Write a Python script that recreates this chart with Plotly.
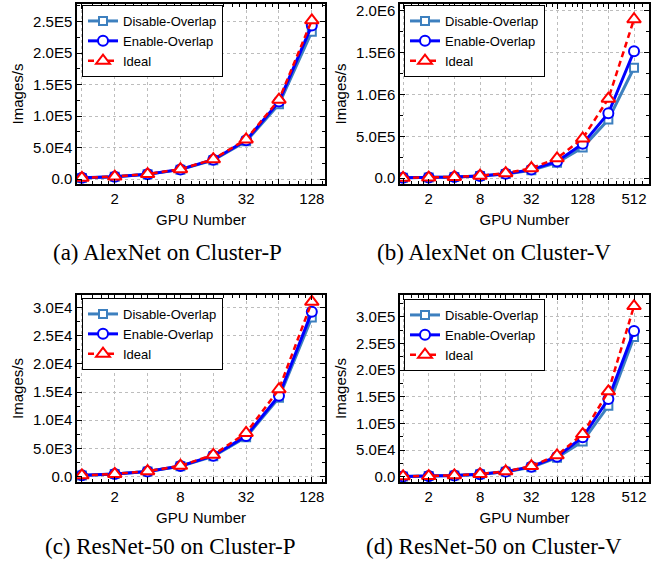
import plotly.graph_objects as go

W, H = 667, 567

# ---------------- data ----------------
gpus_p = [1, 2, 4, 8, 16, 32, 64, 128]
gpus_v = [1, 2, 4, 8, 16, 32, 64, 128, 256, 512]

alex_p_disable = [1900, 3800, 7500, 15000, 30000, 60000, 119000, 234000]
alex_p_enable = [1950, 3880, 7700, 15400, 30800, 61500, 123000, 244000]
alex_p_ideal = [1970, 3940, 7880, 15760, 31520, 63040, 126080, 252160]

alex_v_disable = [3600, 6800, 13000, 25500, 49000, 95000, 185000, 366000, 700000, 1320000]
alex_v_enable = [3700, 7000, 13500, 27000, 52000, 102000, 200000, 410000, 775000, 1517000]
alex_v_ideal = [3710, 7420, 14840, 29680, 59360, 118720, 237440, 474880, 949760, 1899520]

res_p_disable = [230, 460, 920, 1840, 3620, 7000, 14000, 28200]
res_p_enable = [235, 470, 940, 1880, 3720, 7200, 14340, 29200]
res_p_ideal = [242, 484, 968, 1936, 3872, 7744, 15488, 30976]

res_v_disable = [590, 1150, 2300, 4500, 9100, 17800, 35500, 66000, 133000, 262000]
res_v_enable = [600, 1200, 2400, 4700, 9500, 18800, 37500, 74000, 145700, 273000]
res_v_ideal = [625, 1250, 2500, 5000, 10000, 20000, 40000, 80000, 160000, 320000]

series_names = ["Disable-Overlap", "Enable-Overlap", "Ideal"]

x_ticktext_p = ["", "2", "", "8", "", "32", "", "128"]
x_ticktext_v = ["", "2", "", "8", "", "32", "", "128", "", "512"]

y_tickvals_a = [0, 50000, 100000, 150000, 200000, 250000]
y_ticktext_a = ["0.0", "5.0E4", "1.0E5", "1.5E5", "2.0E5", "2.5E5"]
y_tickvals_b = [0, 500000, 1000000, 1500000, 2000000]
y_ticktext_b = ["0.0", "5.0E5", "1.0E6", "1.5E6", "2.0E6"]
y_tickvals_c = [0, 5000, 10000, 15000, 20000, 25000, 30000]
y_ticktext_c = ["0.0", "5.0E3", "1.0E4", "1.5E4", "2.0E4", "2.5E4", "3.0E4"]
y_tickvals_d = [0, 50000, 100000, 150000, 200000, 250000, 300000]
y_ticktext_d = ["0.0", "5.0E4", "1.0E5", "1.5E5", "2.0E5", "2.5E5", "3.0E5"]

captions = ["(a) AlexNet on Cluster-P", "(b) AlexNet on Cluster-V",
            "(c) ResNet-50 on Cluster-P", "(d) ResNet-50 on Cluster-V"]

# ---------------- layout helpers ----------------
def px_x(v):
    return v / W

def px_y(v):
    return 1 - v / H

panels = [
    dict(x=gpus_p, ys=[alex_p_disable, alex_p_enable, alex_p_ideal],
         xt=x_ticktext_p, yv=y_tickvals_a, yt=y_ticktext_a, ydt=25000,
         xr=[-0.045, 2.228], yr=[-7800, 278000],
         dom_x=(77, 325), dom_y=(4, 184), leg=(82, 5)),
    dict(x=gpus_v, ys=[alex_v_disable, alex_v_enable, alex_v_ideal],
         xt=x_ticktext_v, yv=y_tickvals_b, yt=y_ticktext_b, ydt=250000,
         xr=[-0.036, 2.885], yr=[-70000, 2082000],
         dom_x=(400, 649), dom_y=(4, 184), leg=(404, 5)),
    dict(x=gpus_p, ys=[res_p_disable, res_p_enable, res_p_ideal],
         xt=x_ticktext_p, yv=y_tickvals_c, yt=y_ticktext_c, ydt=2500,
         xr=[-0.045, 2.228], yr=[-940, 32180],
         dom_x=(77, 325), dom_y=(295, 482), leg=(82, 298)),
    dict(x=gpus_v, ys=[res_v_disable, res_v_enable, res_v_ideal],
         xt=x_ticktext_v, yv=y_tickvals_d, yt=y_ticktext_d, ydt=25000,
         xr=[-0.036, 2.885], yr=[-9940, 340700],
         dom_x=(400, 649), dom_y=(295, 482), leg=(404, 299)),
]

styles = [
    dict(color="#3D80BF", symbol="square", msize=8, lw=3, dash="solid"),
    dict(color="#0000FF", symbol="circle", msize=10, lw=3, dash="solid"),
    dict(color="#FF0000", symbol="triangle-up", msize=12, lw=2.5, dash="6px,4px"),
]

FONT = "Arial, Liberation Sans, sans-serif"

fig = go.Figure()
layout = dict(
    width=W, height=H,
    margin=dict(l=0, r=0, t=0, b=0, autoexpand=False),
    paper_bgcolor="white", plot_bgcolor="white",
    font=dict(family=FONT, size=15, color="black"),
    annotations=[],
)

for i, p in enumerate(panels):
    n = "" if i == 0 else str(i + 1)
    xa, ya = "x" + n, "y" + n
    leg = "legend" + n
    for s, ys, name in zip(styles, p["ys"], series_names):
        fig.add_trace(go.Scatter(
            x=p["x"], y=ys, name=name, mode="lines+markers",
            xaxis=xa, yaxis=ya, legend=leg,
            line=dict(color=s["color"], width=s["lw"], dash=s["dash"]),
            marker=dict(symbol=s["symbol"], size=s["msize"], color="white",
                        line=dict(color=s["color"], width=2)),
        ))
    minor_x = []
    for g in p["x"]:
        for f in (1.25, 1.5, 1.75):
            minor_x.append(g * f)
    layout["xaxis" + n] = dict(
        domain=[px_x(p["dom_x"][0]), px_x(p["dom_x"][1])],
        anchor=ya, type="log", range=p["xr"], automargin=False,
        tickmode="array", tickvals=p["x"], ticktext=p["xt"],
        ticks="inside", ticklen=5, tickwidth=1, tickcolor="black",
        showline=True, linecolor="black", linewidth=1.5, mirror="allticks",
        showgrid=True, gridcolor="#BDBDBD", griddash="dot", gridwidth=1,
        zeroline=False, tickfont=dict(size=15, family=FONT, color="black"),
        ticklabeloverflow="allow",
        title=dict(text="GPU Number", font=dict(size=15, family=FONT), standoff=9),
        minor=dict(tickmode="array", tickvals=minor_x, ticks="inside", ticklen=3,
                   tickcolor="black", showgrid=False),
    )
    layout["yaxis" + n] = dict(
        domain=[px_y(p["dom_y"][1]), px_y(p["dom_y"][0])],
        anchor=xa, range=p["yr"], automargin=False,
        tickmode="array", tickvals=p["yv"], ticktext=p["yt"],
        ticks="inside", ticklen=5, tickwidth=1, tickcolor="black",
        showline=True, linecolor="black", linewidth=1.5, mirror="allticks",
        showgrid=True, gridcolor="#BDBDBD", griddash="dot", gridwidth=1,
        zeroline=False, tickfont=dict(size=15, family=FONT, color="black"),
        ticklabeloverflow="allow",
        title=dict(text="Images/s", font=dict(size=15, family=FONT), standoff=6),
        minor=dict(tick0=0, dtick=p["ydt"], ticks="inside", ticklen=3,
                   tickcolor="black", showgrid=False),
    )
    layout[leg] = dict(
        x=px_x(p["leg"][0]), y=px_y(p["leg"][1]), xanchor="left", yanchor="top",
        bgcolor="white", bordercolor="black", borderwidth=1,
        font=dict(size=13, family=FONT, color="black"),
        itemwidth=30, tracegroupgap=0,
    )

cap_pos = [(167, 252), (494, 252), (170, 546), (494, 546)]
for txt, (cx, cy) in zip(captions, cap_pos):
    layout["annotations"].append(dict(
        text=txt, x=px_x(cx), y=px_y(cy), xref="paper", yref="paper",
        xanchor="center", yanchor="middle", showarrow=False,
        font=dict(family="Liberation Serif, Times New Roman, serif", size=23, color="black"),
    ))

fig.update_layout(**layout)
fig.write_html("out.html", config={"displayModeBar": False},
               post_script="document.body.style.margin='0px';")
